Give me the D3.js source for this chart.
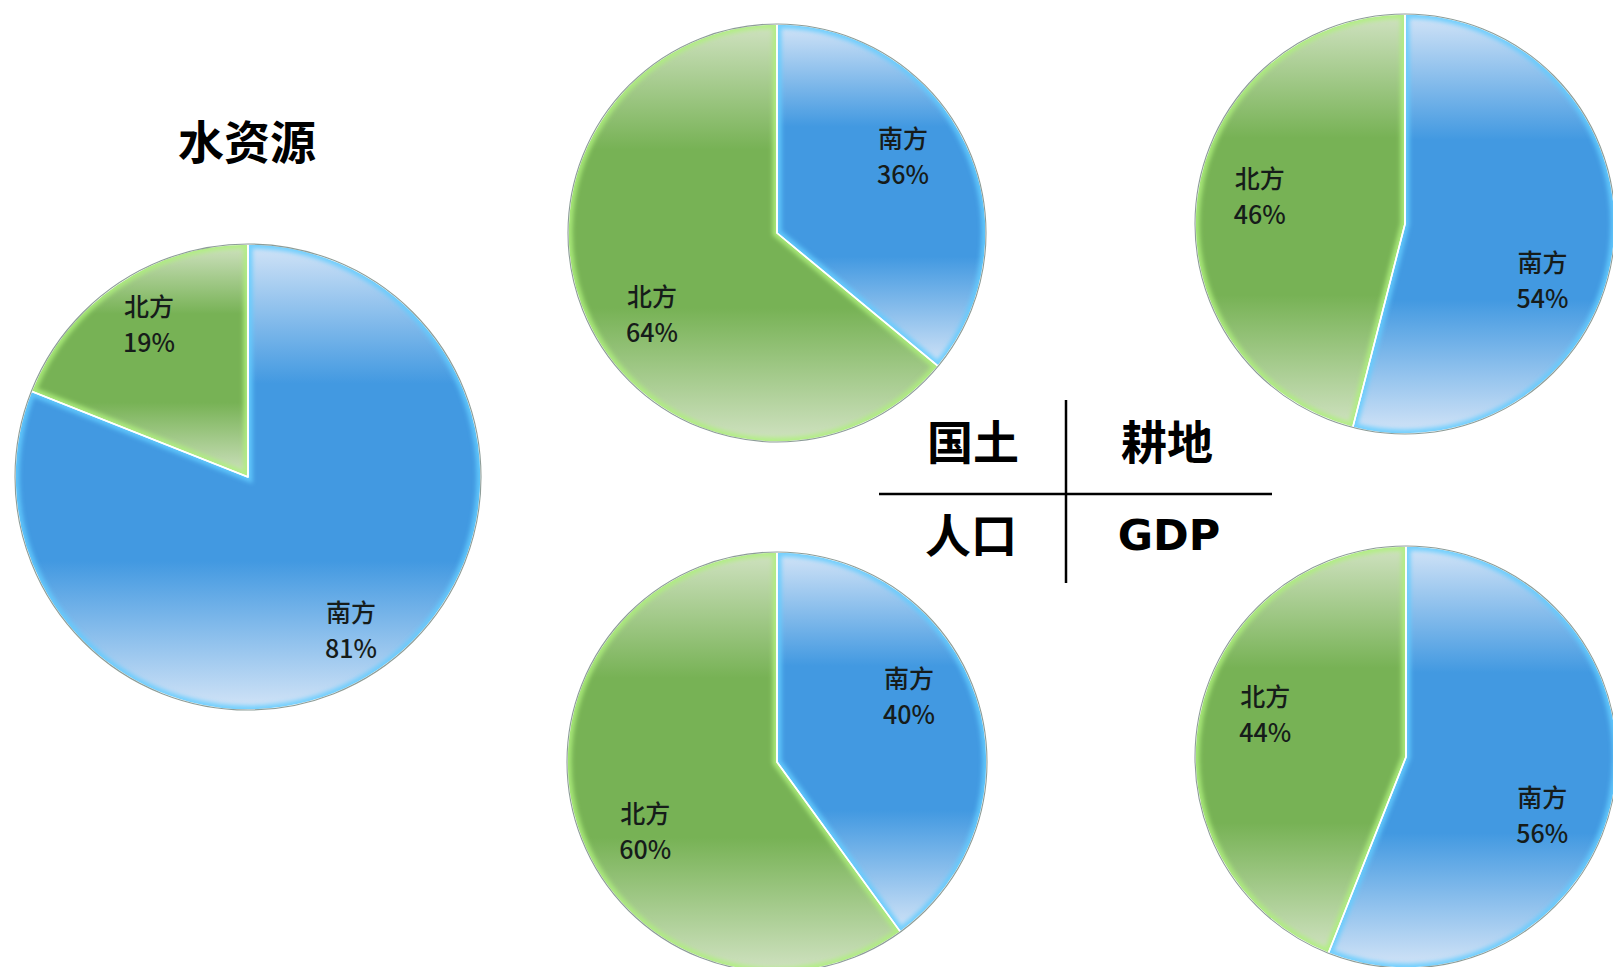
<!DOCTYPE html>
<html>
<head>
<meta charset="utf-8">
<script src="https://cdn.jsdelivr.net/npm/d3@7"></script>
<style>
  html, body { margin: 0; padding: 0; background: #ffffff; }
  svg { display: block; }
</style>
</head>
<body>
<svg id="chart" width="1613" height="967"></svg>
<script>
// South / north shares of China's resources and economy (percent)
const charts = ["水资源", "国土", "耕地", "人口", "GDP"];
const regions = ["南方", "北方"];
const southShare = [81, 36, 54, 40, 56];
const northShare = [19, 64, 46, 60, 44];

// Placement of each pie on the page; labels sit on a ring (labelR),
// each turned from its slice's middle by labelTurn degrees [south, north]
const layout = [
  { cx: 248,  cy: 477, r: 233, labelR: 0.787, labelTurn: [0, 1.5] },
  { cx: 777,  cy: 233, r: 209, labelR: 0.71,  labelTurn: [-6.6, -7.4] },
  { cx: 1405, cy: 224, r: 210, labelR: 0.705, labelTurn: [14.5, 4] },
  { cx: 777,  cy: 762, r: 210, labelR: 0.705, labelTurn: [-9, -9.2] },
  { cx: 1406, cy: 757, r: 211, labelR: 0.70,  labelTurn: [11.8, 6.7] }
];

const palette = {
  "南方": { solid: "#4299e1", light: "#d3e4f7", glow: "#63ccff" },
  "北方": { solid: "#77b255", light: "#d0e2c1", glow: "#aef07c" }
};

const svg = d3.select("#chart");
const defs = svg.append("defs");

// vertical fade on each slice: pale at top and bottom, saturated in the middle
Object.entries(palette).forEach(([name, c], i) => {
  const g = defs.append("linearGradient")
    .attr("id", "fill" + i)
    .attr("x1", 0).attr("y1", 0).attr("x2", 0).attr("y2", 1);
  [[0, c.light], [0.3, c.solid], [0.68, c.solid], [1, c.light]].forEach(([o, col]) => {
    g.append("stop").attr("offset", o).attr("stop-color", col);
  });
  c.fillId = "fill" + i;
});

defs.append("filter").attr("id", "soft")
  .attr("x", "-10%").attr("y", "-10%").attr("width", "120%").attr("height", "120%")
  .append("feGaussianBlur").attr("stdDeviation", 2.2);

const pie = d3.pie().sort(null).value(d => d.value);
const rad = Math.PI / 180;

charts.forEach((chartName, ci) => {
  const L = layout[ci];
  const rows = regions.map((reg, k) => ({
    region: reg,
    value: k === 0 ? southShare[ci] : northShare[ci]
  }));
  const arcs = pie(rows);
  const arc = d3.arc().innerRadius(0).outerRadius(L.r);
  const labelArc = d3.arc().innerRadius(L.r * L.labelR).outerRadius(L.r * L.labelR);

  const g = svg.append("g").attr("transform", `translate(${L.cx},${L.cy})`);

  arcs.forEach((a, k) => {
    const c = palette[a.data.region];
    const clipId = `clip-${ci}-${k}`;
    defs.append("clipPath").attr("id", clipId)
      .append("path").attr("d", arc(a)).attr("transform", `translate(${L.cx},${L.cy})`);

    g.append("path")
      .attr("d", arc(a))
      .attr("fill", `url(#${c.fillId})`);

    // bright inner rim along the slice edges
    svg.append("g").attr("clip-path", `url(#${clipId})`)
      .append("path")
      .attr("transform", `translate(${L.cx},${L.cy})`)
      .attr("d", arc(a))
      .attr("fill", "none")
      .attr("stroke", c.glow)
      .attr("stroke-width", 9)
      .attr("stroke-opacity", 0.85)
      .attr("filter", "url(#soft)");
  });

  const top = svg.append("g").attr("transform", `translate(${L.cx},${L.cy})`);
  arcs.forEach(a => {
    top.append("path")
      .attr("d", arc(a))
      .attr("fill", "none")
      .attr("stroke", "#ffffff")
      .attr("stroke-width", 1.6)
      .attr("stroke-linejoin", "round");
  });
  top.append("circle")
    .attr("r", L.r)
    .attr("fill", "none")
    .attr("stroke", "#8d9d98")
    .attr("stroke-width", 1.1);

  arcs.forEach((a, k) => {
    const turn = L.labelTurn[k] * rad;
    const [x, y] = labelArc.centroid({
      startAngle: a.startAngle + turn,
      endAngle: a.endAngle + turn
    });
    const t = top.append("text")
      .attr("x", x).attr("y", y)
      .attr("text-anchor", "middle")
      .attr("font-family", "'Noto Sans CJK SC', 'Noto Sans', sans-serif")
      .attr("font-weight", 500)
      .attr("font-size", 25)
      .attr("fill", "#161c1a");
    t.append("tspan").attr("x", x).attr("dy", -7).text(a.data.region);
    t.append("tspan").attr("x", x).attr("dy", 36).text(a.data.value + "%");
  });
});

// title of the large pie
svg.append("text")
  .attr("x", 247).attr("y", 139)
  .attr("text-anchor", "middle")
  .attr("dominant-baseline", "central")
  .attr("font-family", "'Noto Sans CJK SC', sans-serif")
  .attr("font-weight", 700)
  .attr("font-size", 46)
  .attr("fill", "#000")
  .text(charts[0]);

// key showing which quadrant holds which pie
const key = svg.append("g");
key.append("line").attr("x1", 1066).attr("x2", 1066).attr("y1", 400).attr("y2", 583)
  .attr("stroke", "#000").attr("stroke-width", 2.5);
key.append("line").attr("x1", 879).attr("x2", 1272).attr("y1", 494).attr("y2", 494)
  .attr("stroke", "#000").attr("stroke-width", 2.5);
const keyPos = [null, [973, 439], [1167, 439], [971, 532], [1169, 535]];
charts.forEach((name, i) => {
  if (!keyPos[i]) return;
  const latin = /^[A-Z]+$/.test(name);
  key.append("text")
    .attr("x", keyPos[i][0]).attr("y", keyPos[i][1])
    .attr("text-anchor", "middle")
    .attr("dominant-baseline", "central")
    .attr("font-family", latin ? "'DejaVu Sans', sans-serif" : "'Noto Sans CJK SC', sans-serif")
    .attr("font-weight", 700)
    .attr("font-size", latin ? 43 : 46)
    .attr("fill", "#000")
    .text(name);
});
</script>
</body>
</html>
